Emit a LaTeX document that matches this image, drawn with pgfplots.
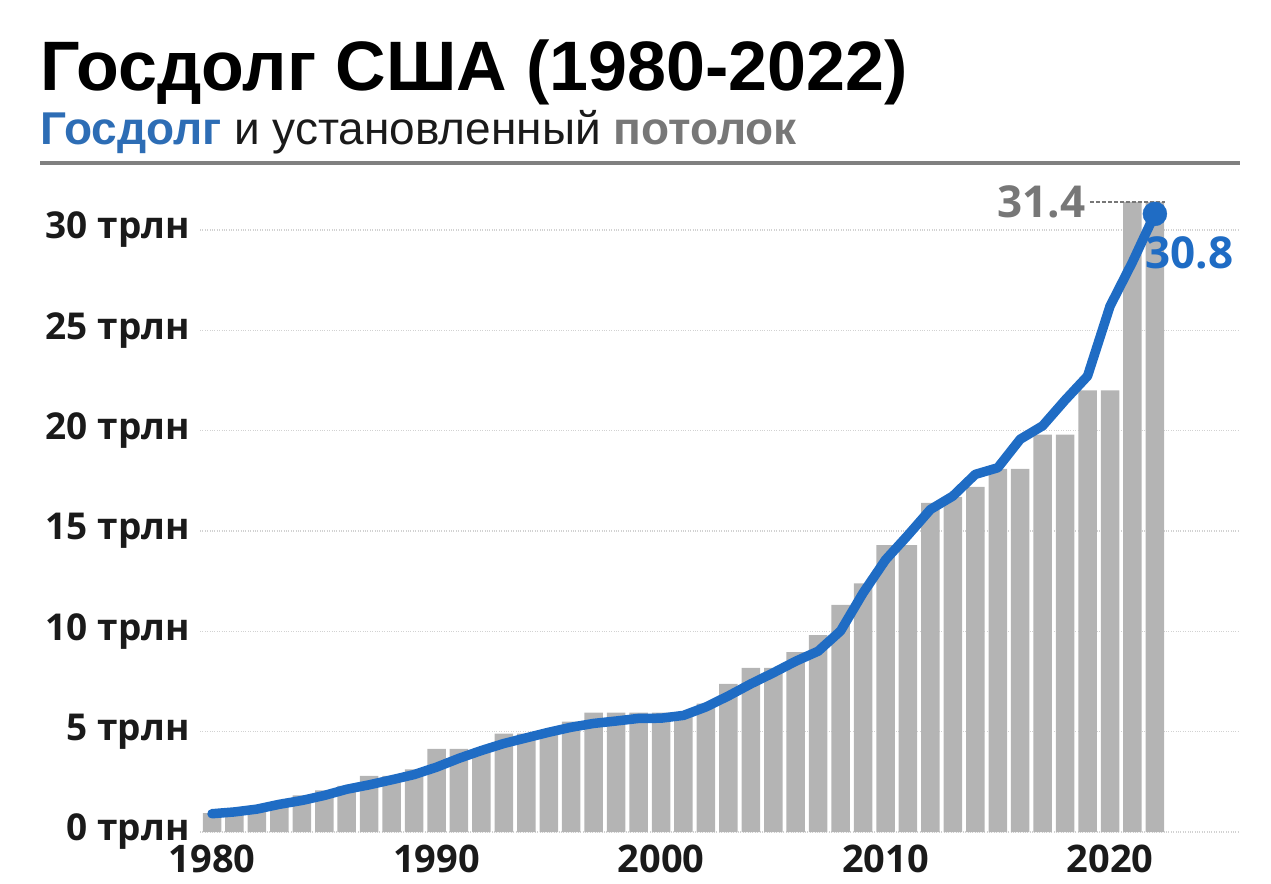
\documentclass[border=0pt]{standalone}
\usepackage{fontspec}
\setmainfont{Liberation Sans}
\newfontfamily\osans{Open Sans}
\usepackage{pgfplots}
\usepackage{pgfplotstable}
\pgfplotsset{compat=1.18}
\definecolor{debtblue}{HTML}{1F6CC4}
\definecolor{barGray}{HTML}{B4B4B4}
\definecolor{ceilGray}{HTML}{777777}
\definecolor{subBlue}{HTML}{2D6DB5}
\definecolor{ruleGray}{HTML}{808080}
\definecolor{tickBlack}{HTML}{1A1A1A}

\pgfplotstableread{
year ceiling
1980 0.935
1981 1.079
1982 1.290
1983 1.490
1984 1.823
1985 2.079
1986 2.300
1987 2.800
1988 2.800
1989 3.123
1990 4.145
1991 4.145
1992 4.145
1993 4.900
1994 4.900
1995 4.900
1996 5.500
1997 5.950
1998 5.950
1999 5.950
2000 5.950
2001 5.950
2002 6.400
2003 7.384
2004 8.184
2005 8.184
2006 8.965
2007 9.815
2008 11.315
2009 12.394
2010 14.294
2011 14.294
2012 16.394
2013 16.699
2014 17.200
2015 18.100
2016 18.100
2017 19.800
2018 19.800
2019 22.000
2020 22.000
2021 31.400
2022 31.400
}\ceilingdata

\pgfplotstableread{
year debt
1980 0.91
1981 1.00
1982 1.14
1983 1.38
1984 1.57
1985 1.82
1986 2.13
1987 2.35
1988 2.60
1989 2.86
1990 3.23
1991 3.67
1992 4.06
1993 4.41
1994 4.69
1995 4.97
1996 5.22
1997 5.41
1998 5.53
1999 5.66
2000 5.67
2001 5.81
2002 6.23
2003 6.78
2004 7.38
2005 7.93
2006 8.51
2007 9.01
2008 10.02
2009 11.91
2010 13.56
2011 14.79
2012 16.07
2013 16.74
2014 17.82
2015 18.15
2016 19.57
2017 20.24
2018 21.52
2019 22.72
2020 26.20
2021 28.40
2022 30.80
}\debtdata

\begin{document}
\begin{tikzpicture}
\path[use as bounding box] (0bp,0bp) rectangle (1271bp,884bp);
\node[anchor=base west, inner sep=0, font=\fontsize{70bp}{76bp}\selectfont\bfseries] at (40bp,793bp) {Госдолг США (1980-2022)};
\node[anchor=base west, inner sep=0, font=\fontsize{46bp}{50bp}\selectfont, text=tickBlack] at (40bp,739bp) {\textcolor{subBlue}{\bfseries Госдолг} и установленный \textcolor{ceilGray}{\bfseries потолок}};
\draw[ruleGray, line width=3.5bp] (40bp,721bp) -- (1240bp,721bp);
\begin{axis}[
  at={(200bp,52bp)}, anchor=south west,
  scale only axis, width=1040bp, height=642.2bp,
  xmin=1979.465, xmax=2025.79, ymin=0, ymax=32,
  clip=false,
  axis line style={draw=none},
  major tick length=0pt,
  ymajorgrids,
  grid style={dotted, gray!35, line width=1.2bp},
  ytick={0,5,10,15,20,25,30},
  yticklabels={0 трлн,5 трлн,10 трлн,15 трлн,20 трлн,25 трлн,30 трлн},
  xtick={1980,1990,2000,2010,2020},
  xticklabels={1980,1990,2000,2010,2020},
  yticklabel style={font=\osans\bfseries\fontsize{37bp}{40bp}\selectfont, text=tickBlack, anchor=east, inner sep=0pt, xshift=-10bp},
  xticklabel style={font=\osans\bfseries\fontsize{38bp}{40bp}\selectfont, text=tickBlack, anchor=north, inner sep=0pt, yshift=-13bp},
]
\addplot[ybar, bar width=18.5bp, fill=barGray, draw=none] table[x=year, y=ceiling] {\ceilingdata};
\addplot[debtblue, line width=9.5bp, line join=round, line cap=round] table[x=year, y=debt] {\debtdata};
\addplot[only marks, mark=*, mark size=12bp, debtblue] coordinates {(2022,30.8)};
\draw[ceilGray, dash pattern=on 4bp off 2bp, line width=1.5bp] (axis cs:2019.1,31.4) -- (axis cs:2022.45,31.4);
\node[anchor=base east, inner sep=0, text=ceilGray, font=\osans\bfseries\fontsize{44bp}{48bp}\selectfont] at (axis cs:2018.9,30.6) {31.4};
\node[anchor=base west, inner sep=0, text=debtblue, font=\osans\bfseries\fontsize{44bp}{48bp}\selectfont] at (axis cs:2021.56,28.1) {30.8};
\end{axis}
\end{tikzpicture}
\end{document}
